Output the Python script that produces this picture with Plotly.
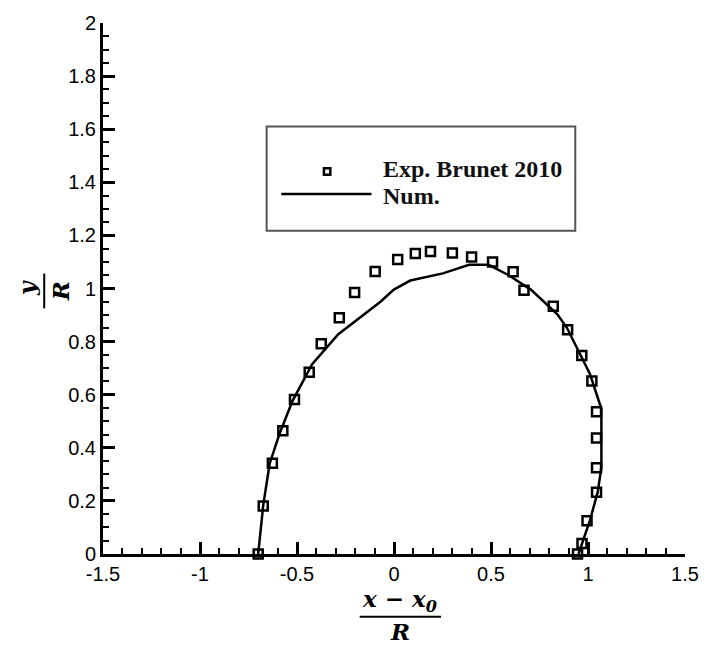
import plotly.graph_objects as go

# ---------------- data ----------------
exp_x = [-0.700, -0.674, -0.627, -0.573, -0.513, -0.437, -0.375, -0.282, -0.203, -0.097,
         0.019, 0.110, 0.188, 0.301, 0.400, 0.508, 0.614, 0.670, 0.821, 0.895,
         0.968, 1.020, 1.044, 1.044, 1.044, 1.044, 0.995, 0.969, 0.946]
exp_y = [0.000, 0.181, 0.342, 0.464, 0.582, 0.685, 0.792, 0.890, 0.985, 1.064,
         1.109, 1.132, 1.139, 1.134, 1.119, 1.100, 1.063, 0.993, 0.933, 0.845,
         0.748, 0.652, 0.536, 0.437, 0.325, 0.233, 0.125, 0.040, 0.000]

num_x = [-0.700, -0.674, -0.641, -0.590, -0.523, -0.422, -0.287, -0.203, -0.068, -0.001,
         0.084, 0.252, 0.387, 0.488, 0.589, 0.707, 0.842, 0.892, 1.010, 1.069,
         1.069, 1.050, 1.010, 0.951]
num_y = [0.000, 0.184, 0.340, 0.453, 0.577, 0.715, 0.828, 0.876, 0.951, 0.996,
         1.030, 1.057, 1.089, 1.089, 1.051, 0.995, 0.903, 0.851, 0.678, 0.547,
         0.327, 0.233, 0.127, 0.000]

x_tick_vals = [-1.5, -1, -0.5, 0, 0.5, 1, 1.5]
x_tick_text = ["-1.5", "-1", "-0.5", "0", "0.5", "1", "1.5"]
y_tick_vals = [0, 0.2, 0.4, 0.6, 0.8, 1, 1.2, 1.4, 1.6, 1.8, 2]
y_tick_text = ["0", "0.2", "0.4", "0.6", "0.8", "1", "1.2", "1.4", "1.6", "1.8", "2"]

legend_exp = "Exp. Brunet 2010"
legend_num = "Num."

# ---------------- layout geometry ----------------
W_PX, H_PX = 711, 647
ML, MR, MT, MB = 103, 14, 20, 93
PW = W_PX - ML - MR
PH = H_PX - MT - MB


def px_x(px):
    return (px - ML) / PW


def px_y(py):
    return (H_PX - MB - py) / PH


fig = go.Figure()

fig.add_trace(go.Scatter(
    x=num_x, y=num_y, mode="lines", name=legend_num,
    line=dict(color="black", width=2.5), showlegend=False, cliponaxis=False))

fig.add_trace(go.Scatter(
    x=exp_x, y=exp_y, mode="markers", name=legend_exp,
    marker=dict(symbol="square-open", size=9, color="black",
                line=dict(color="black", width=2.5)),
    showlegend=False, cliponaxis=False))

tick_font = dict(family="Liberation Sans, Arial", size=20, color="black")
title_font = dict(family="DejaVu Serif", size=23, color="black", style="italic", weight="bold")
leg_font = dict(family="Liberation Serif, Times New Roman", size=24, color="#111111", weight="bold")

axis_common = dict(
    showline=True, linecolor="black", linewidth=3, mirror=False,
    showgrid=False, zeroline=False,
    ticks="inside", ticklen=12, tickwidth=2.5, tickcolor="black",
    tickfont=tick_font,
)

fig.update_xaxes(range=[-1.5, 1.5], tickmode="array", tickvals=x_tick_vals, ticktext=x_tick_text,
                 minor=dict(ticks="inside", ticklen=6, tickwidth=1.5, tickcolor="black", dtick=0.1,
                            showgrid=False),
                 **axis_common)
fig.update_yaxes(range=[0, 2], tickmode="array", tickvals=y_tick_vals, ticktext=y_tick_text,
                 minor=dict(ticks="inside", ticklen=6, tickwidth=1.5, tickcolor="black", dtick=0.05,
                            showgrid=False),
                 **axis_common)

shapes = []
annotations = []

# legend box
shapes.append(dict(type="rect", xref="paper", yref="paper",
                   x0=px_x(270), x1=px_x(585), y0=px_y(229), y1=px_y(124),
                   line=dict(color="#555555", width=2), fillcolor="white", layer="above"))
# legend sample line
shapes.append(dict(type="line", xref="paper", yref="paper",
                   x0=px_x(285), x1=px_x(377), y0=px_y(192), y1=px_y(192),
                   line=dict(color="black", width=2.5), layer="above"))
# legend sample marker (open square)
shapes.append(dict(type="rect", xref="paper", yref="paper",
                   x0=px_x(328.5), x1=px_x(335), y0=px_y(172.5), y1=px_y(166),
                   line=dict(color="black", width=2.5), fillcolor="white", layer="above"))
annotations.append(dict(text=legend_exp, xref="paper", yref="paper", x=px_x(387), y=px_y(167),
                        xanchor="left", yanchor="middle", showarrow=False, font=leg_font))
annotations.append(dict(text=legend_num, xref="paper", yref="paper", x=px_x(387), y=px_y(194),
                        xanchor="left", yanchor="middle", showarrow=False, font=leg_font))

# x-axis title as a fraction
annotations.append(dict(text="x − x<sub>0</sub>",
                        xref="paper", yref="paper", x=px_x(406), y=px_y(601),
                        xanchor="center", yanchor="middle", showarrow=False, font=title_font))
shapes.append(dict(type="line", xref="paper", yref="paper",
                   x0=px_x(365), x1=px_x(448), y0=px_y(617), y1=px_y(617),
                   line=dict(color="black", width=2)))
annotations.append(dict(text="R", xref="paper", yref="paper", x=px_x(406), y=px_y(632),
                        xanchor="center", yanchor="middle", showarrow=False, font=title_font))

# y-axis title as a rotated fraction
annotations.append(dict(text="y", xref="paper", yref="paper", x=px_x(25), y=px_y(287),
                        xanchor="center", yanchor="middle", showarrow=False, textangle=-90,
                        font=title_font))
shapes.append(dict(type="line", xref="paper", yref="paper",
                   x0=px_x(43), x1=px_x(43), y0=px_y(272), y1=px_y(307),
                   line=dict(color="black", width=2)))
annotations.append(dict(text="R", xref="paper", yref="paper", x=px_x(60), y=px_y(290),
                        xanchor="center", yanchor="middle", showarrow=False, textangle=-90,
                        font=title_font))

fig.update_layout(
    width=W_PX, height=H_PX,
    margin=dict(l=ML, r=MR, t=MT, b=MB),
    paper_bgcolor="white", plot_bgcolor="white",
    showlegend=False,
    shapes=shapes, annotations=annotations,
)

fig.write_html("out.html")
